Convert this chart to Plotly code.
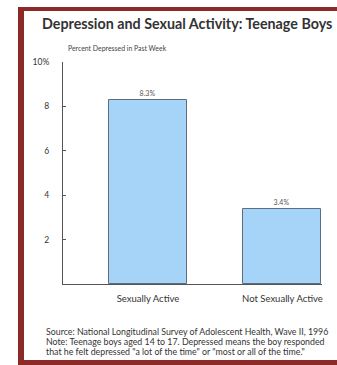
import plotly.graph_objects as go

categories = ["Sexually Active", "Not Sexually Active"]
values = [8.3, 3.4]
value_labels = ["8.3%", "3.4%"]
tick_vals = [2, 4, 6, 8, 10]
tick_text = ["2", "4", "6", "8", "10%"]

title = "Depression and Sexual Activity: Teenage Boys"
y_title = "Percent Depressed in Past Week"
source_lines = [
    "Source: National Longitudinal Survey of Adolescent Health, Wave II, 1996",
    "Note: Teenage boys aged 14 to 17. Depressed means the boy responded",
    "that he felt depressed \"a lot of the time\" or \"most or all of the time.\"",
]

W, H = 337, 365
L, R, T, B = 63, 15, 62, 81

fig = go.Figure()
fig.add_trace(go.Bar(
    x=categories, y=values, width=0.58,
    marker=dict(color="#a6d3f8", line=dict(color="#5e6e7c", width=1)),
    text=value_labels, textposition="outside", cliponaxis=False,
    textfont=dict(family="Lato", size=7, color="#555555"),
))

fig.update_layout(
    width=W, height=H,
    margin=dict(l=L, r=R, t=T, b=B, pad=0),
    paper_bgcolor="white", plot_bgcolor="white",
    showlegend=False,
    bargap=0,
    xaxis=dict(
        type="category", range=[-0.632, 1.294],
        showline=True, linecolor="#555555", linewidth=1,
        ticks="", showgrid=False, zeroline=False,
        tickfont=dict(family="Lato", size=9.5, color="#333333"),
        ticklabelstandoff=6,
    ),
    yaxis=dict(
        range=[0, 10], tickvals=tick_vals, ticktext=tick_text,
        showline=True, linecolor="#555555", linewidth=1,
        ticks="inside", ticklen=3, tickcolor="#555555",
        showgrid=False, zeroline=False,
        tickfont=dict(family="Lato", size=8.5, color="#333333"),
        ticklabelstandoff=11,
    ),
    font=dict(family="Lato", color="#333333"),
)

pw, ph = W - L - R, H - T - B

def fx(x):
    return (x - L) / pw

def fy(y):
    return 1 - (y - T) / ph

annotations = [
    dict(text="<b>" + title + "</b>", x=fx(40), y=fy(23), xanchor="left", yanchor="middle",
         font=dict(family="Lato", size=14.3, color="#333333")),
    dict(text=y_title, x=fx(66), y=fy(48), xanchor="left", yanchor="middle",
         font=dict(family="Lato", size=6.9, color="#444444")),
]
for i, line in enumerate(source_lines):
    annotations.append(dict(text=line, x=fx(44), y=fy(331 + 10 * i), xanchor="left", yanchor="middle",
                            font=dict(family="Lato", size=8.8, color="#333333")))
for a in annotations:
    a.update(xref="paper", yref="paper", showarrow=False)
fig.update_layout(annotations=annotations)

# dark red frame
border = "#8b2a26"
fig.add_shape(type="rect", xref="paper", yref="paper", x0=fx(18), x1=fx(24), y0=fy(365), y1=fy(7),
              fillcolor=border, line_width=0, layer="above")
fig.add_shape(type="rect", xref="paper", yref="paper", x0=fx(18), x1=fx(340), y0=fy(11), y1=fy(7),
              fillcolor=border, line_width=0, layer="above")
fig.add_shape(type="rect", xref="paper", yref="paper", x0=fx(18), x1=fx(340), y0=fy(365), y1=fy(360),
              fillcolor=border, line_width=0, layer="above")

fig.write_html("out.html")
